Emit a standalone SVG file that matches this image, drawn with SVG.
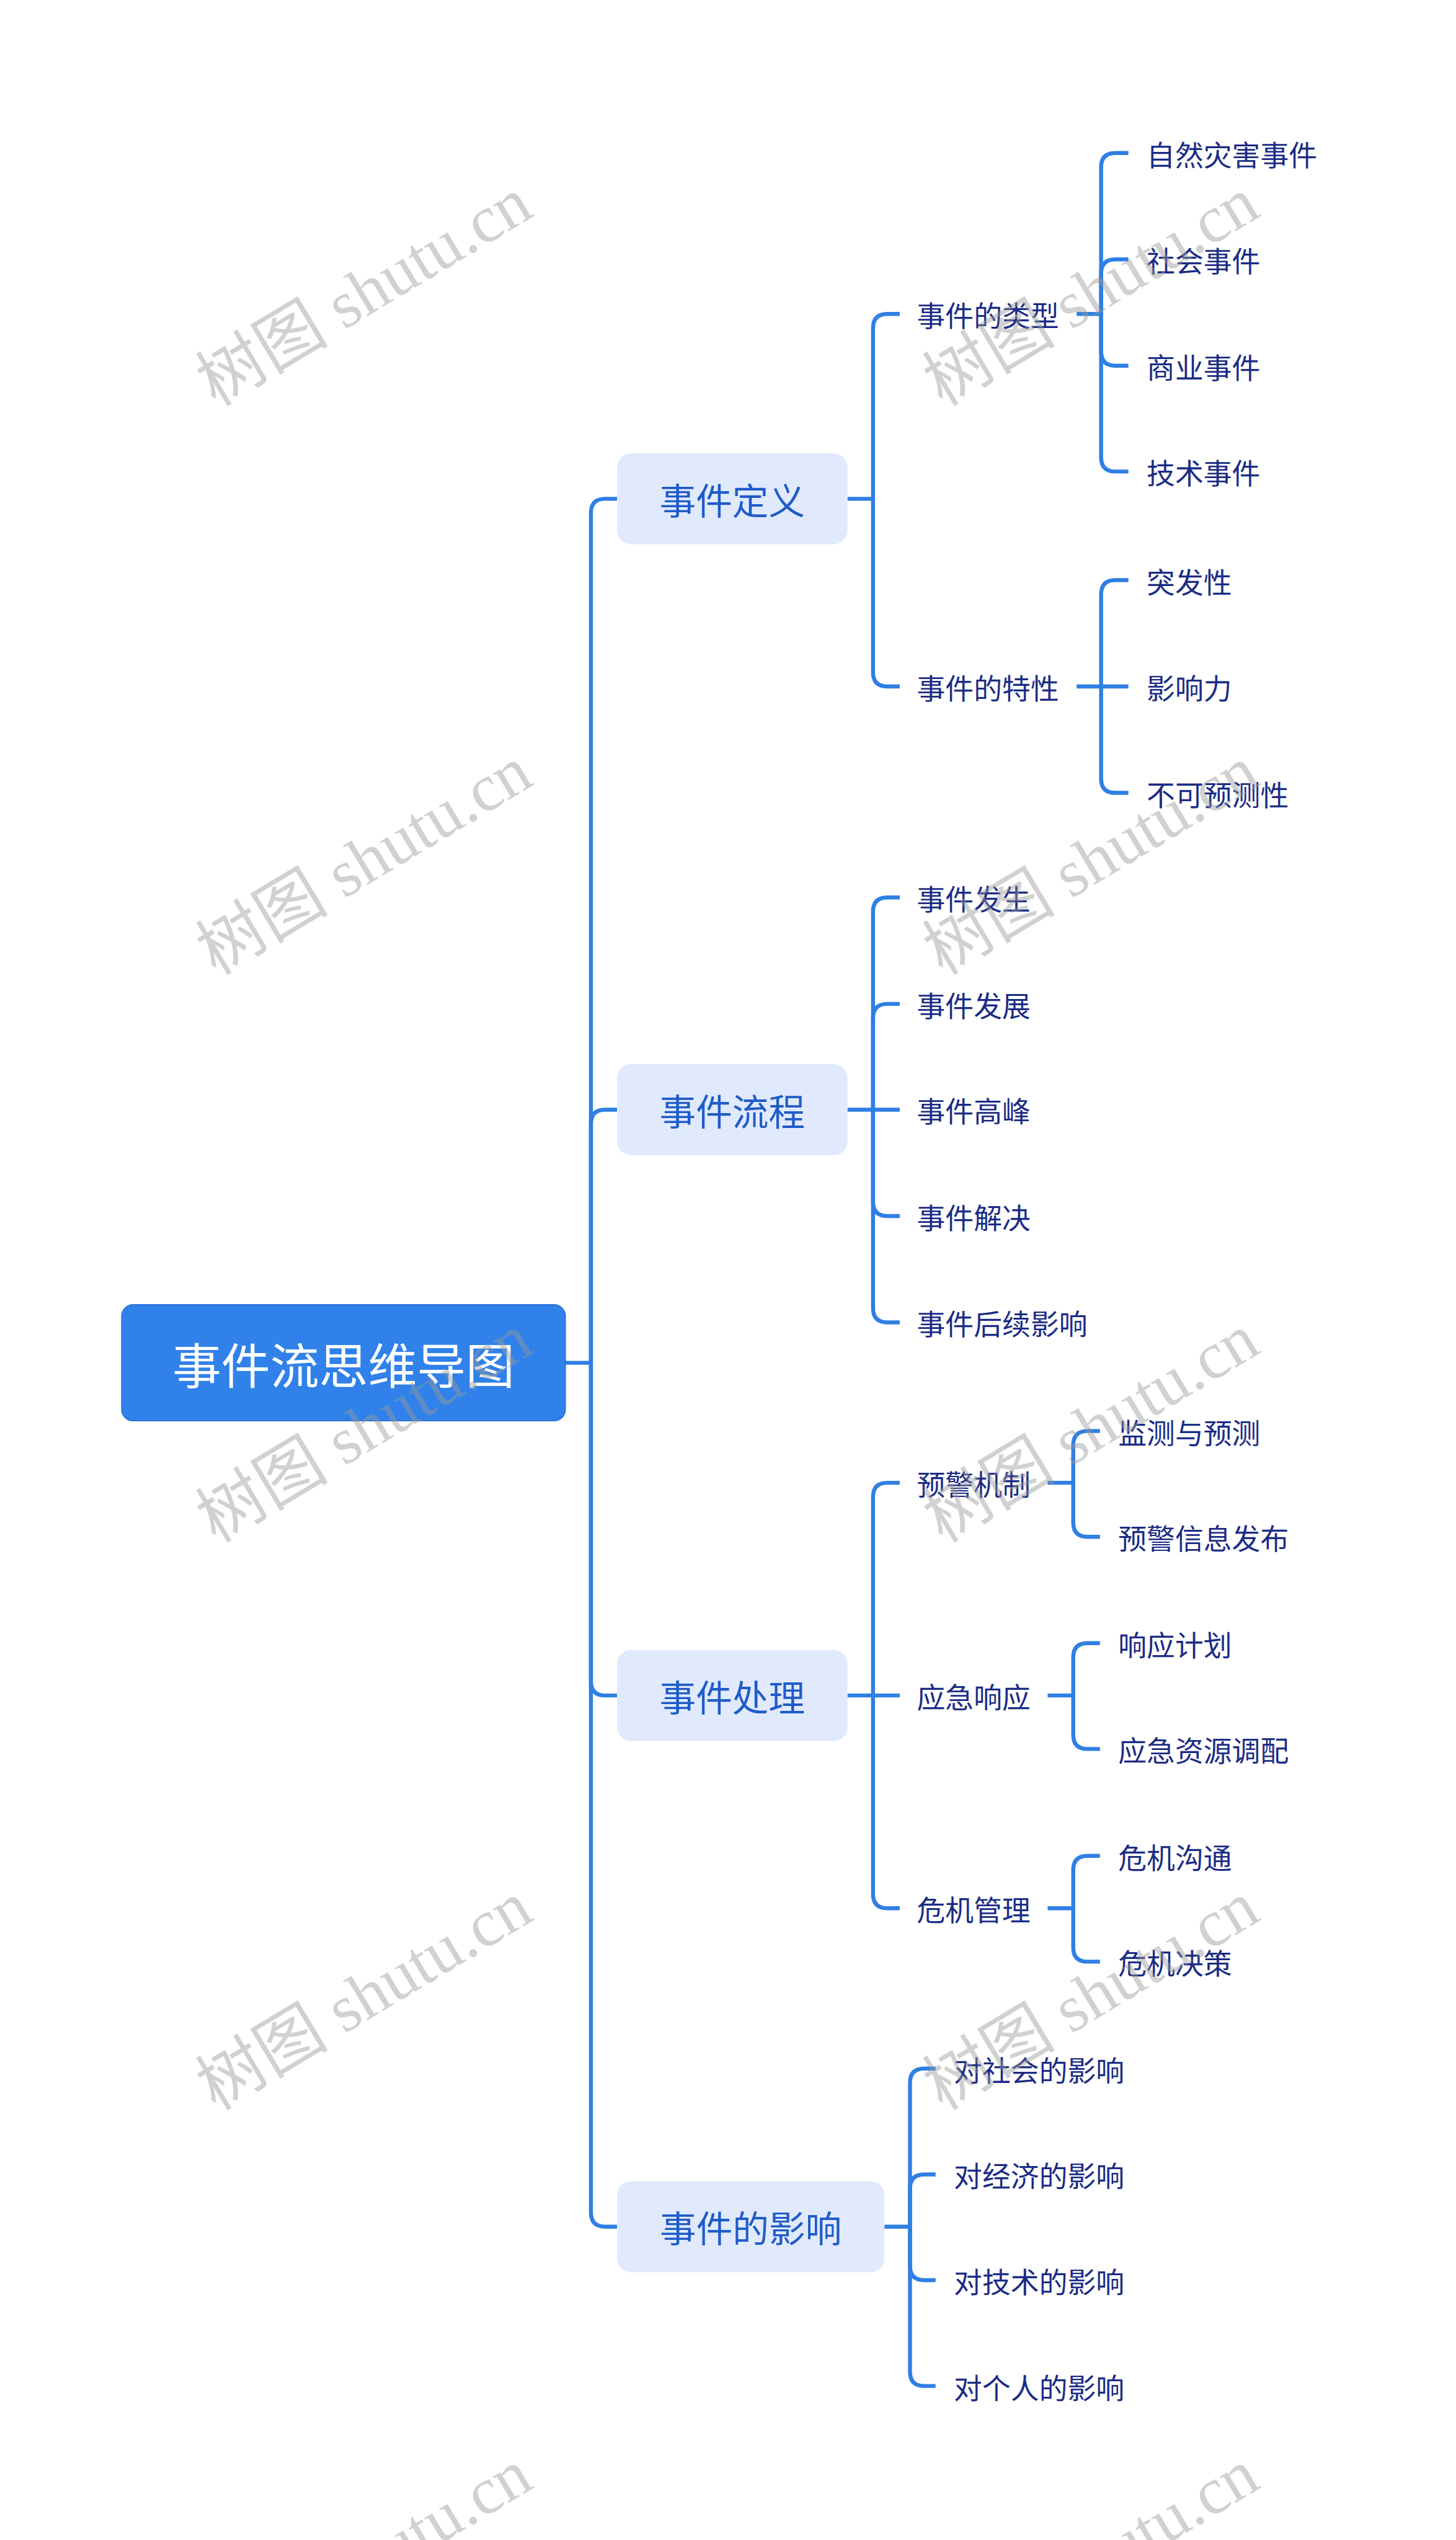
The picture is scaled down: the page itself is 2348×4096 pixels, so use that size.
<svg xmlns="http://www.w3.org/2000/svg" width="2348" height="4096" viewBox="0 0 2348 4096">
<defs>
<style>
.bg{fill:#ffffff}
.root-box{fill:#3081ea;stroke:#2a72d8;stroke-width:2}
.root-text{fill:#ffffff;font-family:"Noto Sans CJK SC","Noto Sans",sans-serif;font-size:86px;text-anchor:middle;dominant-baseline:central}
.l1-box{fill:#e1eafd}
.l1-text{fill:#1f5cc8;font-family:"Noto Sans CJK SC","Noto Sans",sans-serif;font-size:64px;text-anchor:middle;dominant-baseline:central}
.l2-text{fill:#1b2c85;font-family:"Noto Sans CJK SC","Noto Sans",sans-serif;font-size:50px;text-anchor:start;dominant-baseline:central}
.conn{fill:none;stroke:#2f7fe4;stroke-width:7;stroke-linecap:butt;stroke-linejoin:round}
.wm{fill:#9a9a9a;fill-opacity:0.45;font-family:"Liberation Serif","Noto Sans CJK SC",serif;font-size:117px;text-anchor:middle;dominant-baseline:central}
</style>
</defs>
<rect class="bg" x="0" y="0" width="2348" height="4096"/>
<g transform="scale(0.91719)">
<g id="connectors">
<path class="conn" d="M994 2396 H1039"/>
<path class="conn" d="M1039 2396 V902 Q1039 877 1064 877 H1085"/>
<path class="conn" d="M1039 2396 V1976 Q1039 1951 1064 1951 H1085"/>
<path class="conn" d="M1039 2396 V2956 Q1039 2981 1064 2981 H1085"/>
<path class="conn" d="M1039 2396 V3890 Q1039 3915 1064 3915 H1085"/>

<path class="conn" d="M1490 877 H1535"/>
<path class="conn" d="M1535 877 V577 Q1535 552 1560 552 H1582"/>
<path class="conn" d="M1535 877 V1182 Q1535 1207 1560 1207 H1582"/>

<path class="conn" d="M1893 552 H1936"/>
<path class="conn" d="M1936 552 V294 Q1936 269 1961 269 H1984"/>
<path class="conn" d="M1936 552 V481 Q1936 456 1961 456 H1984"/>
<path class="conn" d="M1936 552 V618 Q1936 643 1961 643 H1984"/>
<path class="conn" d="M1936 552 V804 Q1936 829 1961 829 H1984"/>

<path class="conn" d="M1893 1207 H1984"/>
<path class="conn" d="M1936 1207 V1045 Q1936 1020 1961 1020 H1984"/>
<path class="conn" d="M1936 1207 V1369 Q1936 1394 1961 1394 H1984"/>

<path class="conn" d="M1490 1951 H1582"/>
<path class="conn" d="M1535 1951 V1603 Q1535 1578 1560 1578 H1582"/>
<path class="conn" d="M1535 1951 V1790 Q1535 1765 1560 1765 H1582"/>
<path class="conn" d="M1535 1951 V2113 Q1535 2138 1560 2138 H1582"/>
<path class="conn" d="M1535 1951 V2300 Q1535 2325 1560 2325 H1582"/>

<path class="conn" d="M1490 2981 H1582"/>
<path class="conn" d="M1535 2981 V2632 Q1535 2607 1560 2607 H1582"/>
<path class="conn" d="M1535 2981 V3330 Q1535 3355 1560 3355 H1582"/>

<path class="conn" d="M1842 2607 H1887"/>
<path class="conn" d="M1887 2607 V2541 Q1887 2516 1912 2516 H1934"/>
<path class="conn" d="M1887 2607 V2677 Q1887 2702 1912 2702 H1934"/>
<path class="conn" d="M1842 2981 H1887"/>
<path class="conn" d="M1887 2981 V2914 Q1887 2889 1912 2889 H1934"/>
<path class="conn" d="M1887 2981 V3050 Q1887 3075 1912 3075 H1934"/>
<path class="conn" d="M1842 3355 H1887"/>
<path class="conn" d="M1887 3355 V3288 Q1887 3263 1912 3263 H1934"/>
<path class="conn" d="M1887 3355 V3424 Q1887 3449 1912 3449 H1934"/>

<path class="conn" d="M1555 3915 H1600"/>
<path class="conn" d="M1600 3915 V3662 Q1600 3637 1625 3637 H1645"/>
<path class="conn" d="M1600 3915 V3848 Q1600 3823 1625 3823 H1645"/>
<path class="conn" d="M1600 3915 V3984 Q1600 4009 1625 4009 H1645"/>
<path class="conn" d="M1600 3915 V4170 Q1600 4195 1625 4195 H1645"/>
</g>

<g id="root"><rect class="root-box" x="214" y="2294" width="780" height="204" rx="20"/><text class="root-text" x="604" y="2396">事件流思维导图</text></g>

<g id="n-def"><rect class="l1-box" x="1085" y="797" width="405" height="160" rx="24"/><text class="l1-text" x="1287.5" y="877">事件定义</text></g>
<g id="n-flow"><rect class="l1-box" x="1085" y="1871" width="405" height="160" rx="24"/><text class="l1-text" x="1287.5" y="1951">事件流程</text></g>
<g id="n-handle"><rect class="l1-box" x="1085" y="2901" width="405" height="160" rx="24"/><text class="l1-text" x="1287.5" y="2981">事件处理</text></g>
<g id="n-impact"><rect class="l1-box" x="1085" y="3835" width="470" height="160" rx="24"/><text class="l1-text" x="1320" y="3915">事件的影响</text></g>

<g id="n-types"><text class="l2-text" x="1612" y="552">事件的类型</text></g>
<g id="n-traits"><text class="l2-text" x="1612" y="1207">事件的特性</text></g>
<g id="n-t1"><text class="l2-text" x="2016" y="269">自然灾害事件</text></g>
<g id="n-t2"><text class="l2-text" x="2016" y="456">社会事件</text></g>
<g id="n-t3"><text class="l2-text" x="2016" y="643">商业事件</text></g>
<g id="n-t4"><text class="l2-text" x="2016" y="829">技术事件</text></g>
<g id="n-c1"><text class="l2-text" x="2016" y="1020">突发性</text></g>
<g id="n-c2"><text class="l2-text" x="2016" y="1207">影响力</text></g>
<g id="n-c3"><text class="l2-text" x="2016" y="1394">不可预测性</text></g>

<g id="n-f1"><text class="l2-text" x="1612" y="1578">事件发生</text></g>
<g id="n-f2"><text class="l2-text" x="1612" y="1765">事件发展</text></g>
<g id="n-f3"><text class="l2-text" x="1612" y="1951">事件高峰</text></g>
<g id="n-f4"><text class="l2-text" x="1612" y="2138">事件解决</text></g>
<g id="n-f5"><text class="l2-text" x="1612" y="2325">事件后续影响</text></g>

<g id="n-h1"><text class="l2-text" x="1612" y="2607">预警机制</text></g>
<g id="n-h2"><text class="l2-text" x="1612" y="2981">应急响应</text></g>
<g id="n-h3"><text class="l2-text" x="1612" y="3355">危机管理</text></g>
<g id="n-h11"><text class="l2-text" x="1966" y="2516">监测与预测</text></g>
<g id="n-h12"><text class="l2-text" x="1966" y="2702">预警信息发布</text></g>
<g id="n-h21"><text class="l2-text" x="1966" y="2889">响应计划</text></g>
<g id="n-h22"><text class="l2-text" x="1966" y="3075">应急资源调配</text></g>
<g id="n-h31"><text class="l2-text" x="1966" y="3263">危机沟通</text></g>
<g id="n-h32"><text class="l2-text" x="1966" y="3449">危机决策</text></g>

<g id="n-i1"><text class="l2-text" x="1677" y="3637">对社会的影响</text></g>
<g id="n-i2"><text class="l2-text" x="1677" y="3823">对经济的影响</text></g>
<g id="n-i3"><text class="l2-text" x="1677" y="4009">对技术的影响</text></g>
<g id="n-i4"><text class="l2-text" x="1677" y="4195">对个人的影响</text></g>

<g id="watermarks">
<text class="wm" transform="translate(640 513) rotate(-31)">树图 shutu.cn</text>
<text class="wm" transform="translate(1918 513) rotate(-31)">树图 shutu.cn</text>
<text class="wm" transform="translate(640 1513) rotate(-31)">树图 shutu.cn</text>
<text class="wm" transform="translate(1918 1513) rotate(-31)">树图 shutu.cn</text>
<text class="wm" transform="translate(640 2511) rotate(-31)">树图 shutu.cn</text>
<text class="wm" transform="translate(1918 2511) rotate(-31)">树图 shutu.cn</text>
<text class="wm" transform="translate(640 3509) rotate(-31)">树图 shutu.cn</text>
<text class="wm" transform="translate(1918 3509) rotate(-31)">树图 shutu.cn</text>
<text class="wm" transform="translate(640 4507) rotate(-31)">树图 shutu.cn</text>
<text class="wm" transform="translate(1918 4507) rotate(-31)">树图 shutu.cn</text>
</g>
</g>
</svg>
